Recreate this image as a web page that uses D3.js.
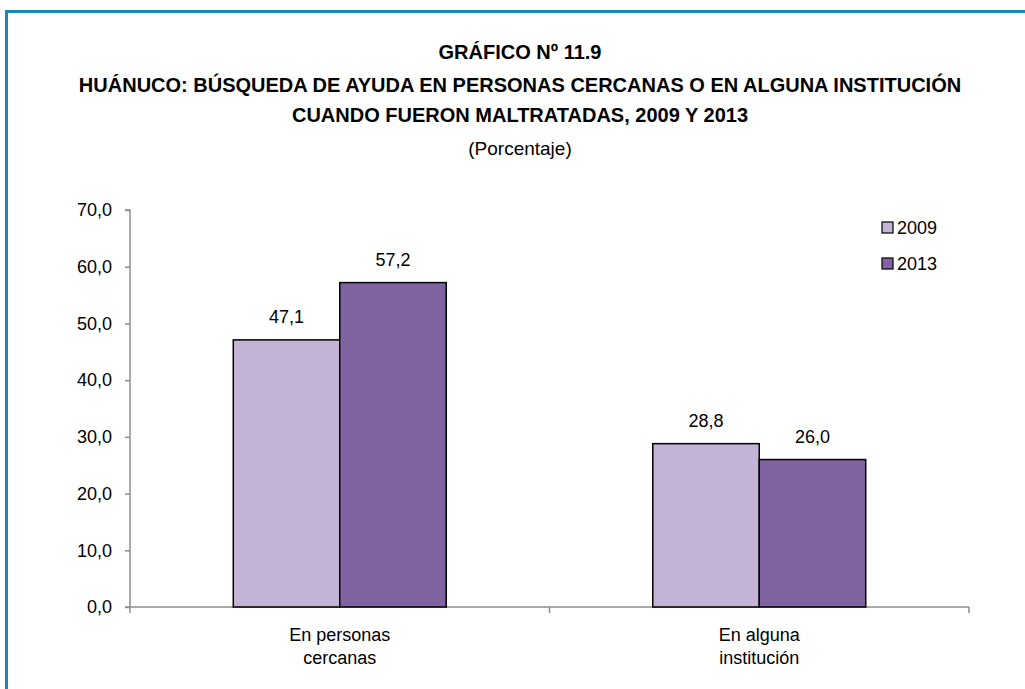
<!DOCTYPE html>
<html>
<head>
<meta charset="utf-8">
<script src="https://cdn.jsdelivr.net/npm/d3@7"></script>
<style>
  body { margin: 0; background: #fff; }
  text { font-family: "Liberation Sans Narrow", "Arial Narrow", "Liberation Sans", Arial, sans-serif; }
</style>
</head>
<body>
<div id="chart"></div>
<script>
// data
var categories = [["En personas", "cercanas"], ["En alguna", "institución"]];
var series = ["2009", "2013"];
var values2009 = [47.1, 28.8];
var values2013 = [57.2, 26.0];
var yTicks = [0, 10, 20, 30, 40, 50, 60, 70];
var titleLines = [
  "GRÁFICO Nº 11.9",
  "HUÁNUCO:  BÚSQUEDA DE AYUDA EN PERSONAS CERCANAS O EN ALGUNA INSTITUCIÓN",
  "CUANDO FUERON MALTRATADAS, 2009 Y 2013"
];
var subtitle = "(Porcentaje)";

var W = 1025, H = 689;
var colors = {"2009": "#c3b4d6", "2013": "#8064a2"};
var fmt = function(v) { return d3.format(".1f")(v).replace(".", ","); };

var svg = d3.select("#chart").append("svg")
  .attr("width", W).attr("height", H);

// frame
svg.append("rect")
  .attr("x", 6.5).attr("y", 11.5)
  .attr("width", W + 20).attr("height", H + 20)
  .attr("fill", "none")
  .attr("stroke", "#1a87bb")
  .attr("stroke-width", 3);

// titles
var titleY = [59, 92, 122];
titleLines.forEach(function(t, i) {
  svg.append("text")
    .attr("x", 520).attr("y", titleY[i])
    .attr("text-anchor", "middle")
    .style("font-size", "20px")
    .style("font-weight", "bold")
    .text(t);
});
svg.append("text")
  .attr("x", 520).attr("y", 155)
  .attr("text-anchor", "middle")
  .style("font-size", "19px")
  .text(subtitle);

// scales
var catKeys = categories.map(function(c) { return c.join(" "); });
var x0 = d3.scaleBand().domain(catKeys).range([130, 969]).padding(0);
var x1 = d3.scaleBand().domain(series).range([0, x0.bandwidth()])
  .paddingInner(0).paddingOuter(0.97);
var y = d3.scaleLinear().domain([0, 70]).range([607, 210]);

// y axis
var yAxis = svg.append("g")
  .attr("transform", "translate(130,0)")
  .call(d3.axisLeft(y).tickValues(yTicks).tickFormat(fmt).tickSize(5).tickPadding(13));
yAxis.selectAll("line, path").attr("stroke", "#8c8c8c").attr("stroke-width", 1.5);
yAxis.selectAll("text").style("font-size", "18px").attr("fill", "#000");
yAxis.select(".domain").attr("d", "M-5," + y(70) + "H0V" + y(0) + "H-5");

// x axis
var xAxis = svg.append("g")
  .attr("transform", "translate(0," + y(0) + ")");
xAxis.append("line")
  .attr("x1", 130).attr("x2", 969)
  .attr("stroke", "#8c8c8c").attr("stroke-width", 1.5);
var xTicks = [130].concat(catKeys.map(function(k) { return x0(k) + x0.bandwidth(); }));
xAxis.selectAll(".xt").data(xTicks).enter().append("line")
  .attr("x1", function(d) { return d; }).attr("x2", function(d) { return d; })
  .attr("y1", 0).attr("y2", 6)
  .attr("stroke", "#8c8c8c").attr("stroke-width", 1.5);

categories.forEach(function(c, i) {
  var t = svg.append("text")
    .attr("x", x0(catKeys[i]) + x0.bandwidth() / 2)
    .attr("y", 641)
    .attr("text-anchor", "middle")
    .style("font-size", "18px");
  c.forEach(function(line, j) {
    t.append("tspan")
      .attr("x", x0(catKeys[i]) + x0.bandwidth() / 2)
      .attr("dy", j === 0 ? 0 : 23)
      .text(line);
  });
});

// bars
var data = [];
catKeys.forEach(function(k, i) {
  data.push({cat: k, s: "2009", v: values2009[i]});
  data.push({cat: k, s: "2013", v: values2013[i]});
});

svg.selectAll(".bar").data(data).enter().append("rect")
  .attr("x", function(d) { return x0(d.cat) + x1(d.s); })
  .attr("y", function(d) { return y(d.v); })
  .attr("width", x1.bandwidth())
  .attr("height", function(d) { return y(0) - y(d.v); })
  .attr("fill", function(d) { return colors[d.s]; })
  .attr("stroke", "#000")
  .attr("stroke-width", 1.5);

svg.selectAll(".lbl").data(data).enter().append("text")
  .attr("x", function(d) { return x0(d.cat) + x1(d.s) + x1.bandwidth() / 2; })
  .attr("y", function(d) { return y(d.v) - 17; })
  .attr("text-anchor", "middle")
  .style("font-size", "18px")
  .text(function(d) { return fmt(d.v); });

// legend
var legend = svg.selectAll(".leg").data(series).enter().append("g")
  .attr("transform", function(d, i) { return "translate(882," + (222 + i * 36) + ")"; });
legend.append("rect")
  .attr("width", 11).attr("height", 11)
  .attr("fill", function(d) { return colors[d]; })
  .attr("stroke", "#000").attr("stroke-width", 1.2);
legend.append("text")
  .attr("x", 15).attr("y", 12)
  .style("font-size", "18px")
  .text(function(d) { return d; });
</script>
</body>
</html>
